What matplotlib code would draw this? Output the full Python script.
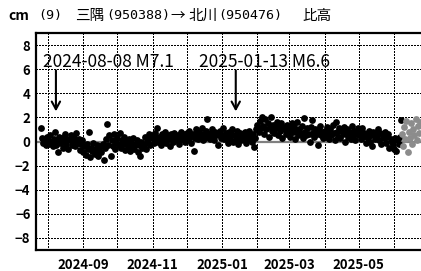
import numpy as np
import pandas as pd
import matplotlib
matplotlib.use("Agg")
import matplotlib.pyplot as plt

plt.rcParams['font.family'] = ['Noto Sans CJK JP', 'DejaVu Sans']

# daily height change (cm)
start_black = "2024-07-26"
black_vals = [
    # Jul 26-31
    1.1, 0.3, -0.1, 0.2, -0.3, 0.4,
    # Aug
    0.1, -0.2, 0.5, 0.0, -0.4, 0.2, 0.8, -0.3, 0.1, -0.9, 0.4, -0.1, 0.3, -0.5, 0.0, 0.6,
    -0.2, 0.2, -0.6, 0.1, 0.5, -0.3, 0.0, 0.3, -0.4, 0.7, -0.1, 0.2, -0.7, -0.2, 0.1,
    # Sep
    -0.9, -0.4, -1.1, -0.2, -0.6, 0.75, -1.3, -0.5, -0.8, -0.1, -1.0, -0.6, -0.3, -1.2, -0.7,
    -0.4, -0.9, -0.2, -1.5, -0.5, 0.2, 1.45, -0.3, 0.5, -1.2, 0.1, -0.4, 0.6, -0.6, 0.0,
    # Oct
    0.3, -0.3, 0.7, -0.5, 0.1, -0.2, 0.4, -0.7, 0.0, -0.4, 0.2, -0.8, -0.1, -0.5, 0.3, -0.6,
    -0.2, 0.1, -0.9, -0.3, -1.2, 0.0, -0.5, -0.2, 0.4, -0.6, 0.2, -0.1, 0.6, -0.3, 0.3,
    # Nov
    0.5, -0.1, 0.7, 0.2, 1.1, 0.0, 0.4, -0.3, 0.6, 0.1, 0.3, 0.8, -0.1, 0.5, 0.2,
    -0.4, 0.6, 0.3, 0.0, 0.7, 0.4, 0.1, 0.5, -0.2, 0.3, 0.8, 0.2, 0.6, 0.0, 0.4,
    # Dec
    0.7, 0.2, 0.9, 0.4, -0.1, 0.6, -0.8, 0.3, 1.0, 0.5, 0.2, 0.8, 0.4, 1.1, 0.1, 0.6,
    0.3, 0.9, 1.9, 0.5, 0.2, 0.7, 1.0, 0.4, 0.1, 0.8, 0.5, -0.3, 0.6, 0.9, 0.3,
    # Jan
    0.5, 1.1, 0.2, 0.7, 0.4, -0.1, 0.8, 0.3, 0.6, 1.0, 0.0, 0.5, 0.2, 0.9, -0.2, 0.4,
    0.7, 0.1, 0.6, 0.3, 0.8, -0.1, 0.5, 0.2, 0.9, 0.4, 0.0, 0.6, -0.45, 0.3, 1.0,
    # Feb
    1.4, 0.8, 1.7, 1.1, 2.0, 1.3, 0.6, 1.9, 1.0, 1.5, 0.4, 1.2, 2.0, 0.9,
    1.4, 0.7, 1.1, 1.6, 0.5, 1.3, 0.9, 1.5, 0.3, 1.0, 1.2, 0.6, 1.4, 0.8,
    # Mar
    1.1, 0.4, 1.5, 0.8, 1.2, 0.2, 0.9, 1.6, 0.5, 1.0, 0.7, 1.3, 0.3, 1.95, 0.8, 0.5,
    1.1, 0.6, 0.0, 1.2, 1.75, 0.7, 0.4, 1.0, 0.6, -0.3, 0.9, 1.3, 0.5, 0.8, 0.3,
    # Apr
    0.9, 0.4, 1.2, 0.6, 0.2, 1.0, 0.5, 1.4, 0.7, 0.1, 1.6, 0.8, 0.4, 1.1, 0.3,
    0.9, 0.6, 1.2, 0.0, 0.7, 1.0, 0.4, 0.8, 0.2, 1.3, 0.5, 0.9, 0.1, 0.6, 1.1,
    # May
    0.5, 0.8, 0.2, 1.1, 0.4, 0.7, -0.1, 0.6, 0.3, 0.9, 0.0, 0.5, -0.4, 0.8, 0.2, 0.6,
    0.4, 1.0, 0.1, 0.7, -0.2, 0.5, 0.3, 0.8, -0.1, 0.4, 0.6, -0.5, 0.2, 0.0, -0.3,
    # Jun 1-7
    -0.6, 0.3, -0.8, 0.1, -0.2, 0.4, 1.8,
]
start_gray = "2025-06-08"
gray_vals = [0.6, -0.4, 1.2, 0.2, 1.7, -0.9, 0.8, 0.3, 1.5, -0.2, 1.0, 0.5, 1.9, 0.1, 1.3, 0.7, 1.6]

quakes = ["2024-08-08", "2025-01-13"]
quake_labels = ["2024-08-08 M7.1", "2025-01-13 M6.6"]
label_starts = ["2024-07-28", "2024-12-12"]

black_dates = pd.date_range(start_black, periods=len(black_vals), freq="D")
gray_dates = pd.date_range(start_gray, periods=len(gray_vals), freq="D")
month_starts = pd.date_range("2024-08-01", "2025-06-01", freq="MS")
label_months = pd.date_range("2024-09-01", "2025-05-01", freq="2MS")

fig = plt.figure(figsize=(4.21, 2.71), dpi=100)
ax = fig.add_axes([36/421, 21/271, 385/421, 217/271])

ax.scatter(black_dates, black_vals, s=24, color="black", linewidths=0, zorder=3)
ax.scatter(gray_dates, gray_vals, s=24, color="#8c8c8c", linewidths=0, zorder=3)
ax.axhline(0, color="#808080", linewidth=1.6, zorder=2)

ax.set_xlim(pd.Timestamp("2024-07-21 12:00"), pd.Timestamp("2025-06-24 18:00"))
ax.set_ylim(-9, 9)

ax.set_xticks(label_months)
ax.set_xticklabels([d.strftime("%Y-%m") for d in label_months])
ax.set_yticks(np.arange(-8, 9, 2))

# dotted grid lines
grid_kw = dict(color="black", linestyle=(0, (1.4, 1.4)), linewidth=0.75,
               antialiased=False, zorder=1)
for d in month_starts:
    ax.axvline(d, **grid_kw)
for v in np.arange(-8, 9, 2):
    if v != 0:
        ax.axhline(v, **grid_kw)

for d, label, ls in zip(quakes, quake_labels, label_starts):
    dt = pd.Timestamp(d)
    ax.annotate("", xy=(dt, 2.5), xytext=(dt, 5.9),
                arrowprops=dict(arrowstyle="->,head_length=0.55,head_width=0.3",
                                color="black", lw=1.5, shrinkA=0, shrinkB=0))
    ax.text(pd.Timestamp(ls), 6.6, label, fontsize=12.5, va="center", ha="left",
            color="black")

for side in ["left", "top", "bottom"]:
    ax.spines[side].set_linewidth(1.6)
ax.spines["right"].set_visible(False)

ax.tick_params(axis="both", which="both", length=0)
ax.tick_params(axis="x", pad=6)
ax.tick_params(axis="y", pad=4)
for lab in ax.get_xticklabels() + ax.get_yticklabels():
    lab.set_fontweight("bold")
    lab.set_fontsize(9.5)

# title, placed piece by piece
title_y = 1 - 16/271
mono = "DejaVu Sans Mono"
fig.text(8/421, title_y, "cm", fontsize=10, fontweight="bold", va="center")
fig.text(38/421, title_y, "(9)", fontsize=9.6, va="center", family=mono)
fig.text(75/421, title_y, "三隅", fontsize=10.5, va="center")
fig.text(106/421, title_y, "(950388)", fontsize=9.6, va="center", family=mono)
fig.text(170/421, title_y, "→", fontsize=10.5, va="center")
fig.text(188/421, title_y, "北川", fontsize=10.5, va="center")
fig.text(218/421, title_y, "(950476)", fontsize=9.6, va="center", family=mono)
fig.text(302/421, title_y, "比高", fontsize=10.5, va="center")

fig.savefig("out.png", dpi=100)
